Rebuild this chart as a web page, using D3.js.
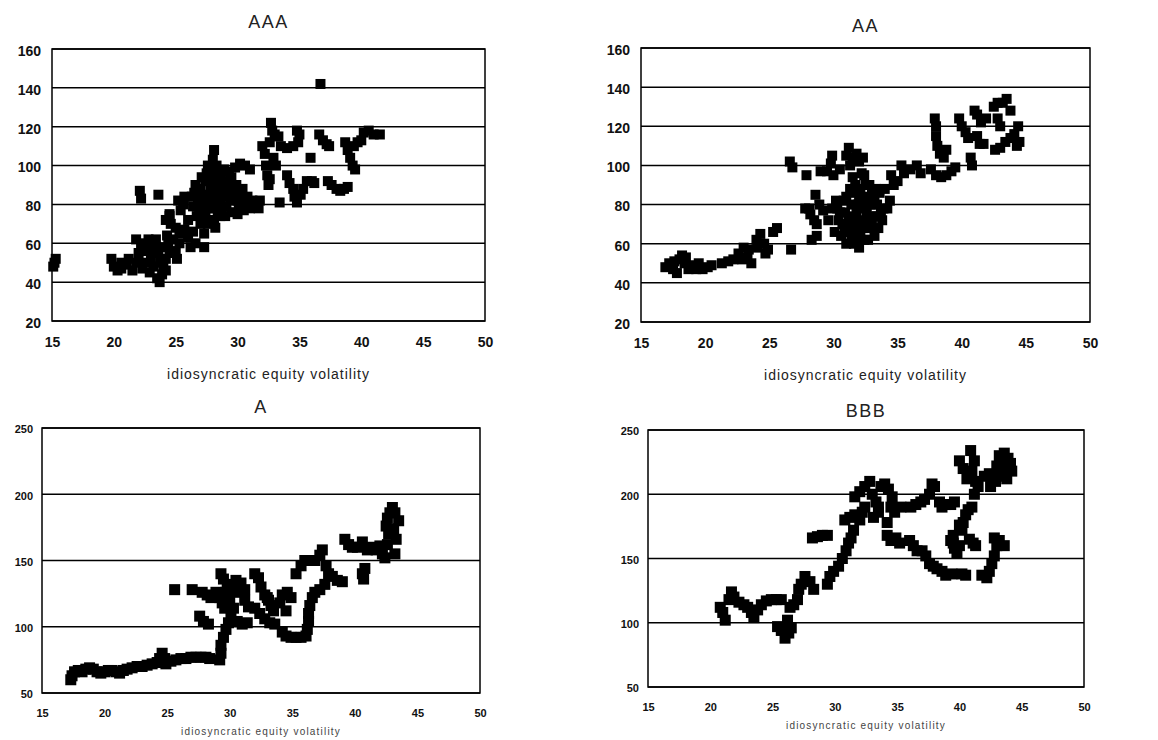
<!DOCTYPE html>
<html>
<head>
<meta charset="utf-8">
<script src="https://cdn.jsdelivr.net/npm/d3@7"></script>
<style>
  body { margin: 0; background: #fff; }
  svg { display: block; }
</style>
</head>
<body>
<svg id="canvas" width="1158" height="740"></svg>
<script>
// ---- data (idiosyncratic equity volatility, spread) ----
let xTicks = [15, 20, 25, 30, 35, 40, 45, 50]
let yTicksTop = [20, 40, 60, 80, 100, 120, 140, 160]
let yTicksBottom = [50, 100, 150, 200, 250]

let aaaPoints = [
  [15.2,50],[15.3,52],[15.1,48],
  [19.8,52],[20,48],[20.3,46],[20.6,50],[21,49],[21.5,46],[21.8,50],[22,55],[22.2,60],[21.8,62],[22.3,47],
  [22.6,56],[22.8,62],[23,52],[23.2,48],[23.5,42],[23.7,40],[23.9,44],[24,48],[24.2,52],[24,58],[24.4,60],
  [24.5,55],[24.3,64],[24.6,70],[24.5,75],[25,56],[25.1,52],[25.3,60],[23.4,58],[22.9,45],[23.6,55],
  [22.5,50],[23.1,57],[23.8,50],[24.2,46],[21.2,52],[22.7,58],[23.4,62],[24.8,62],[20.6,47],
  [22.1,87],[22.2,83],[23.6,85],[25.2,82],[25.6,80],[25.7,84],[24.2,72],[24.5,74],[25,68],[25.4,77],
  [25.3,65],[25.7,67],[26,63],[26.2,58],[27.3,58],[27.3,65],[26.6,60],[26.4,66],[26,72],
  [26.3,84],[26.5,86],[26.8,82],[27,88],[27.2,80],[27.4,92],[27.5,85],[27.7,78],[27.8,88],[28,95],
  [28.2,82],[28.3,90],[28.5,86],[28.7,78],[28.8,92],[29,84],[29.2,88],[29.4,82],[29.6,90],[29.8,86],
  [30,82],[30.3,84],[30.6,80],[28.1,72],[28.2,68],[27.4,74],[27,70],[26.7,74],[27.9,96],[26.9,78],
  [28.6,97],[29.1,79],[27.6,100],[27.3,83],[26.6,90],[27.1,94],[27.8,82],[28.4,76],[28.9,98],[29.5,94],
  [27.9,86],[28.6,82],[29.3,92],[26.4,79],[27.6,70],[28,78],[29.9,90],[30.4,88],[29,74],[28.5,93],
  [27.2,76],[27.8,92],[28.3,84],[28.9,88],[29.4,86],[30.1,78],[26.9,86],[28.6,74],[27.5,96],
  [28.1,108],[28,103],[28.3,100],
  [29.3,97],[29.8,99],[30.2,101],[30.6,100],[31,98],
  [29.5,76],[30,75],[30.5,77],[31,78],[31.5,80],[31.8,82],[31.7,78],[31.2,82],[30.8,84],
  [32,110],[32.2,106],[32.3,100],[32.4,95],[32.6,93],[32.5,90],
  [32.7,122],[32.8,118],[33,116],[33.3,115],[32.9,104],[33.1,100],[32.6,112],
  [33.5,110],[34,109],[34.5,110],[34.9,112],[35,116],[34.8,118],
  [33.4,81],[34,95],[34.2,91],[34.5,88],[34.6,84],[34.8,81],[35.1,85],[35.3,88],[35.6,92],[36,92],[36.2,91],
  [35.9,104],[36.7,142],
  [36.6,116],[36.9,113],[37.2,111],[37.4,110],
  [37.3,92],[37.6,90],[38,88],[38.3,87],[38.6,88],[38.9,89],
  [38.7,112],[38.9,108],[39.1,104],[39.3,100],[39.5,98],[39.4,110],[39.7,112],[40,113],
  [40.2,117],[40.6,118],[41,116],[41.5,116]
]

let aaPoints = [
  [16.9,48],[17.2,50],[17.5,47],[17.8,45],[18,52],[18.2,54],[18.4,50],[18.7,47],[19,49],[19.5,50],
  [19.8,47],[20.2,48],[20.5,49],[18.5,53],[17.6,51],[19.3,47],
  [21.3,50],[21.8,51],[22.2,52],[22.6,55],[23,58],[23.3,53],[23.6,50],[23.4,57],[22.9,52],
  [24,62],[24.3,65],[24.6,60],[24.9,57],[24.7,55],[25.3,66],[25.6,68],[24.1,58],
  [26.7,57],[26.6,102],[26.8,99],[27.9,95],
  [27.8,78],[28.2,75],[28.5,72],[28.3,62],[28.7,64],[28.6,85],[28.9,80],[29.2,77],[28.1,78],[28.7,70],
  [29,97],[29.5,97],[29.9,105],[30,95],[30.5,98],[29.8,101],
  [31,105],[31.2,109],[31.5,104],[31.8,106],[32,102],[32.3,104],[31.3,100],
  [29.6,72],[29.9,78],[30.2,82],[30.5,76],[30.7,70],[30.9,66],[31,60],[31.2,74],[31.4,80],[31.6,86],
  [31.7,68],[31.9,62],[32,58],[32.2,72],[32.4,78],[32.6,84],[32.8,90],[32.9,68],[33.1,74],[33.2,64],
  [33.4,80],[33.6,86],[33.8,72],[33.9,78],[30.1,66],[31.5,94],[32.4,95],[33,70],[32.2,96],[32.5,90],
  [30.8,82],[31.1,70],[31.4,64],[31.8,76],[32.1,66],[32.6,76],[33.2,82],[33.5,68],[32,84],[31.3,88],
  [30.4,72],[32.7,62],[33.3,88],[30.6,64],[31.7,90],[32.9,80],
  [30.9,76],[31.5,72],[31.9,80],[32.3,68],[32.8,72],[33,86],[31.2,66],[31.6,60],[32.4,62],[33.7,76],
  [30.3,78],[31,84],[32.1,88],[33.4,74],[32.6,80],[31.8,70],
  [34.5,95],[35,92],[35.5,96],[36,98],[36.5,100],[36.8,96],[34.2,78],[34.4,82],[34,88],[34.7,90],[35.3,100],
  [37.9,124],[38,120],[38,115],[38.1,110],[38.3,106],[38.6,104],[38.8,108],
  [37.6,98],[38,95],[38.4,94],[38.8,95],[39.2,97],[39.5,99],
  [39.8,124],[40,120],[40.3,117],[40.5,114],[40.7,104],[40.8,100],
  [41,128],[41.2,126],[41.5,122],[41.2,115],[41.4,111],[41.7,111],[41.9,124],
  [42.5,130],[42.8,132],[43.2,132],[43.5,134],[43.8,128],[42.8,124],[43,120],[42.6,108],[43,109],
  [43.4,112],[43.8,114],[44.1,116],[44.4,120],[44.5,112],[44.3,110]
]

let aPoints = [
  [17.3,60],[17.4,63],[17.6,66],[17.9,67],[18.2,66],[18.5,68],[18.8,69],[19.1,68],[19.4,66],[19.7,65],
  [20,66],[20.3,67],[20.6,67],[20.9,66],[21.2,65],[21.5,67],[21.8,68],[22.2,69],[22.6,70],[23,70],
  [23.4,71],[23.8,72],[24.2,73],[24.4,76],[24.6,80],[24.8,76],[24.9,72],[25.3,74],[25.7,75],[26.1,76],
  [26.5,76],[26.9,77],[27.3,77],[27.7,77],[28.1,77],[28.4,76],
  [29.2,75],[29.3,80],[29.3,86],[29.5,92],[29.7,98],[29.9,103],[30.1,108],
  [25.6,128],[27,128],
  [27.6,108],[27.9,104],[28.3,102],[27.8,126],[28.2,124],[28.5,122],[28.9,126],[29.2,122],[29.4,118],[29.6,114],
  [29.3,140],[29.5,136],[29.8,132],[30.1,128],[30,120],[29.7,126],[30.3,114],
  [30.5,135],[30.9,133],[31.2,128],[31.2,120],[31.5,115],[30.6,104],[31,102],[31.4,103],[30.8,126],
  [32,140],[32.3,137],[32.5,130],[32.8,124],[33.1,120],
  [32.4,110],[32.8,106],[33.2,103],[33.6,102],[32,114],
  [33,122],[33.3,116],[33.5,112],[34,118],[34.2,124],[34.6,126],[34.9,122],[34.5,112],
  [34.2,96],[34.5,93],[34.9,92],[35.3,92],[35.7,92],[36.1,93],[36.2,98],[36.3,104],[36.3,110],[36.4,116],
  [36.6,122],[36.8,126],[37.2,128],[37.6,132],
  [35.3,140],[35.7,146],[36,150],[36.4,150],[36.8,150],[37.2,154],[37.4,158],[37.7,146],[37.9,140],
  [38.2,138],[38.6,135],[39,134],
  [39.2,166],[39.5,162],[39.8,160],[40.2,160],[40.6,164],
  [40.6,140],[40.7,136],[40.8,144],
  [41,158],[41.3,160],[41.7,158],[42,161],[42.2,155],[42.4,152],[42.6,162],[42.7,170],[42.5,176],
  [42.6,182],[42.8,186],[43,190],[43.2,186],[43.5,180],[43.1,174],[43.3,166],[43.2,155]
]

let bbbPoints = [
  [20.8,112],[21,108],[21.2,102],[21.5,118],[21.7,124],[21.9,120],
  [22.3,116],[22.7,114],[23,112],[23.3,108],[23.5,104],[23.8,110],[24.1,114],[24.5,117],[24.9,118],
  [25.3,118],[25.7,118],
  [25.4,97],[25.7,94],[26,88],[26.3,92],[26.5,96],[26.2,102],
  [26.4,112],[26.7,114],[27,118],[27.1,126],[27.3,130],[27.6,136],[28,132],[28.3,126],
  [28.2,166],[28.6,167],[29,168],[29.4,168],
  [29.4,130],[29.6,136],[29.9,140],[30.3,144],[30.6,150],[30.9,156],[31.1,162],[31.3,166],[31.5,172],
  [30.8,180],[31.2,182],[31.6,184],[32,180],[32.2,186],[32.4,190],
  [31.6,198],[32,202],[32.4,206],[32.8,210],[33,200],[33.3,194],[33.5,190],[33.1,182],[33.5,186],
  [33.7,206],[34,208],[34.3,204],[34.6,198],[34.5,190],[34.8,186],[35.3,190],[34.2,178],
  [34.2,168],[34.5,164],[34.9,166],[35.2,162],
  [36.1,190],[36.5,192],[36.9,194],[37.2,196],[37.6,200],[37.8,208],[38,206],[38.4,194],[38.6,190],
  [38.9,192],[39.3,192],[39.6,194],
  [36,164],[36.3,160],[36.6,156],[37,156],[37.3,152],[37.6,146],[37.9,144],[38.2,142],[38.6,140],
  [38.9,137],[39.4,138],[39.5,162],[39.6,158],[39.8,154],[40,160],[39.3,164],[39.5,168],
  [40.2,138],[40.5,137],
  [40,176],[40.2,172],[40.3,178],[40.5,184],[40.7,188],[41,190],[40.8,165],[41.1,162],[41.3,160],
  [40,226],[40.3,220],[40.6,212],[40.9,234],[41.2,226],[41,218],[41.3,210],[41.5,206],[41.2,200],
  [41.8,137],[42.2,135],[42.4,140],[42.6,146],[42.8,152],[43,160],[42.8,166],[43.2,164],[43.6,160],
  [42,214],[42.4,216],[42.7,212],[42.5,206],[42.9,210],[43.2,214],[43.5,216],[43.8,220],[43.2,230],
  [43.6,232],[43.9,228],[44.1,224],[44.2,218],[43.8,212],[43.4,226],[43,222]
]

let panels = [
  {title: 'AAA', points: aaaPoints, yDomain: [20, 160], yTicks: yTicksTop,
   left: 52, right: 485, top: 49, bottom: 321, titleY: 28, labelY: 379, mark: 10,
   tickFont: 14, labelFont: 14, labelSpacing: 1, titleFont: 18, labelColor: '#222'},
  {title: 'AA', points: aaPoints, yDomain: [20, 160], yTicks: yTicksTop,
   left: 641, right: 1090, top: 48, bottom: 322, titleY: 32, labelY: 380, mark: 10,
   tickFont: 14, labelFont: 14, labelSpacing: 1, titleFont: 18, labelColor: '#222'},
  {title: 'A', points: aPoints, yDomain: [50, 250], yTicks: yTicksBottom,
   left: 42, right: 480, top: 428, bottom: 693, titleY: 413, labelY: 735, mark: 11,
   tickFont: 11, labelFont: 10, labelSpacing: 1.2, titleFont: 18, labelColor: '#444'},
  {title: 'BBB', points: bbbPoints, yDomain: [50, 250], yTicks: yTicksBottom,
   left: 648, right: 1084, top: 430, bottom: 687, titleY: 417, labelY: 729, mark: 11,
   tickFont: 11, labelFont: 10, labelSpacing: 1.2, titleFont: 18, labelColor: '#444'}
]

let canvas = d3.select('#canvas')

let drawPanel = (p) => {
  let x = d3.scaleLinear().domain([15, 50]).range([p.left, p.right])
  let y = d3.scaleLinear().domain(p.yDomain).range([p.bottom, p.top])
  let g = canvas.append('g')

  // gridlines
  g.selectAll('line.grid')
    .data(p.yTicks)
    .enter()
    .append('line')
    .attr('x1', p.left).attr('x2', p.right)
    .attr('y1', (d) => y(d)).attr('y2', (d) => y(d))
    .attr('stroke', '#000').attr('stroke-width', 1.5)

  // frame
  g.append('rect')
    .attr('x', p.left).attr('y', p.top)
    .attr('width', p.right - p.left).attr('height', p.bottom - p.top)
    .attr('fill', 'none').attr('stroke', '#000').attr('stroke-width', 1.5)

  // axes (labels only, Excel style)
  let xAxis = g.append('g')
    .attr('transform', 'translate(0,' + p.bottom + ')')
    .call(d3.axisBottom(x).tickValues(xTicks).tickSize(0).tickPadding(p.tickFont > 12 ? 16 : 16))
  let yAxis = g.append('g')
    .attr('transform', 'translate(' + p.left + ',0)')
    .call(d3.axisLeft(y).tickValues(p.yTicks).tickSize(0).tickPadding(p.tickFont > 12 ? 11 : 9))
  ;[xAxis, yAxis].forEach((ax) => {
    ax.select('.domain').remove()
    ax.selectAll('text')
      .attr('font-family', 'Liberation Sans, Arial, sans-serif')
      .attr('font-weight', 'bold')
      .attr('font-size', p.tickFont)
      .attr('fill', '#111')
  })
  yAxis.selectAll('text').attr('dy', '0.45em')

  // points
  let s = p.mark
  g.selectAll('rect.pt')
    .data(p.points)
    .enter()
    .append('rect')
    .attr('class', 'pt')
    .attr('x', (d) => x(d[0]) - s / 2)
    .attr('y', (d) => y(d[1]) - s / 2)
    .attr('width', s).attr('height', s)
    .attr('fill', '#000')

  // title
  g.append('text')
    .text(p.title)
    .attr('x', (p.left + p.right) / 2)
    .attr('y', p.titleY)
    .attr('text-anchor', 'middle')
    .attr('font-family', 'Liberation Sans, Arial, sans-serif')
    .attr('font-size', p.titleFont)
    .attr('letter-spacing', '1.5px')
    .attr('fill', '#222')

  // x label
  g.append('text')
    .text('idiosyncratic equity volatility')
    .attr('x', (p.left + p.right) / 2)
    .attr('y', p.labelY)
    .attr('text-anchor', 'middle')
    .attr('font-family', 'Liberation Sans, Arial, sans-serif')
    .attr('font-size', p.labelFont)
    .attr('letter-spacing', p.labelSpacing + 'px')
    .attr('fill', p.labelColor)
}

panels.forEach(drawPanel)
</script>
</body>
</html>
